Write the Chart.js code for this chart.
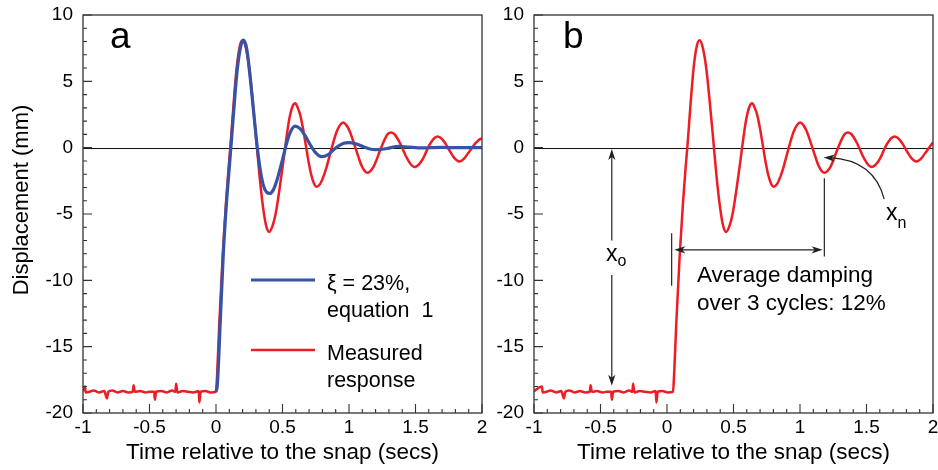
<!DOCTYPE html>
<html lang="en">
<head>
<meta charset="UTF-8">
<title>Snap response: measured vs equation 1</title>
<script src="https://cdn.jsdelivr.net/npm/chart.js"></script>
<style>
  html, body { margin: 0; padding: 0; background: #fff; }
  #wrap { position: relative; width: 938px; height: 470px; }
  canvas { position: absolute; top: 0; }
  #chartA { left: 0; }
  #chartB { left: 490px; }
</style>
</head>
<body>
<div id="wrap">
  <canvas id="chartA" width="490" height="470"></canvas>
  <canvas id="chartB" width="448" height="470"></canvas>
</div>
<script>
  const FONT = "'Liberation Sans', Arial, Helvetica, sans-serif";
  const RED = '#ee1c24';
  const BLUE = '#3853a4';

  // axes
  const xTitle = 'Time relative to the snap (secs)';
  const yTitle = 'Displacement (mm)';

  // measured response, time base of panel a
  const measTimeA = [-1.00,-0.985,-0.98,-0.95,-0.92,-0.88,-0.84,-0.82,-0.81,-0.78,
    -0.74,-0.70,-0.66,-0.625,-0.62,-0.61,-0.57,-0.53,-0.50,-0.465,
    -0.46,-0.45,-0.41,-0.37,-0.33,-0.305,-0.30,-0.29,-0.25,-0.21,
    -0.17,-0.13,-0.125,-0.115,-0.08,-0.04,0.00,
    0.005,0.015,0.025,0.05,0.075,0.095,0.11,0.13,0.155,0.18,0.20,
    0.225,0.25,0.275,0.30,0.325,0.35,0.375,0.40,0.425,0.45,
    0.475,0.50,0.525,0.55,0.575,0.595,0.615,0.635,0.655,0.675,
    0.695,0.715,0.737,0.757,0.782,0.807,0.832,0.857,0.882,0.907,
    0.932,0.957,0.98,1.003,1.025,1.048,1.071,1.094,1.117,1.14,
    1.162,1.184,1.206,1.228,1.25,1.272,1.294,1.316,1.338,1.361,
    1.383,1.406,1.428,1.451,1.473,1.496,1.517,1.539,1.56,1.581,
    1.602,1.624,1.645,1.667,1.688,1.708,1.729,1.749,1.77,1.79,
    1.81,1.83,1.851,1.872,1.893,1.915,1.936,1.957,1.978,2.0];

  // same record as drawn in panel b (its trace sits a little later)
  const measTimeB = [-1.0,-0.94,-0.935,-0.905,-0.875,-0.835,-0.795,-0.775,-0.765,-0.735,
    -0.695,-0.655,-0.615,-0.58,-0.575,-0.565,-0.525,-0.485,-0.455,-0.42,
    -0.415,-0.405,-0.365,-0.325,-0.285,-0.26,-0.255,-0.245,-0.205,-0.165,
    -0.125,-0.085,-0.08,-0.07,-0.035,0.005,0.045,
    0.05,0.06,0.07,0.095,0.12,0.14,0.155,0.175,0.2,0.225,0.245,
    0.27,0.295,0.32,0.345,0.37,0.395,0.42,0.445,0.47,0.495,
    0.52,0.545,0.57,0.595,0.62,0.64,0.66,0.68,0.70,0.72,
    0.74,0.76,0.782,0.802,0.827,0.852,0.877,0.902,0.927,0.952,
    0.977,1.002,1.025,1.048,1.07,1.093,1.116,1.139,1.162,1.185,
    1.207,1.229,1.251,1.273,1.295,1.317,1.339,1.361,1.383,1.406,
    1.428,1.451,1.473,1.496,1.518,1.541,1.562,1.584,1.605,1.626,
    1.647,1.669,1.69,1.712,1.733,1.753,1.774,1.794,1.815,1.835,
    1.855,1.875,1.896,1.917,1.938,1.96,1.981,2.002,2.023,2.045];

  const measDisp = [-18.35,-18.0,-18.45,-18.4,-18.3,-18.45,-18.35,-18.9,-18.4,-18.3,
    -18.45,-18.35,-18.45,-18.4,-17.9,-18.4,-18.35,-18.45,-18.4,-18.4,
    -19.0,-18.4,-18.35,-18.45,-18.3,-18.4,-17.8,-18.45,-18.35,-18.4,
    -18.45,-18.35,-19.2,-18.4,-18.35,-18.45,-18.4,
    -17.8,-15.6,-13.2,-8.2,-4.2,-1.5,0.3,3.0,6.0,7.7,8.1,
    7.5,6.0,3.6,0.9,-1.9,-4.2,-5.8,-6.35,-5.9,-4.9,
    -3.3,-1.5,0.4,2.1,3.1,3.35,3.0,2.4,1.4,0.2,
    -1.0,-2.0,-2.7,-2.95,-2.75,-2.2,-1.45,-0.5,0.4,1.2,
    1.7,1.9,1.7,1.3,0.7,0.0,-0.7,-1.35,-1.75,-1.9,
    -1.75,-1.45,-0.95,-0.35,0.2,0.7,1.05,1.15,1.05,0.75,
    0.35,-0.15,-0.65,-1.05,-1.35,-1.45,-1.35,-1.1,-0.75,-0.3,
    0.15,0.5,0.75,0.85,0.75,0.55,0.25,-0.1,-0.45,-0.75,
    -0.95,-1.05,-0.95,-0.75,-0.45,-0.15,0.15,0.4,0.6,0.7];

  // equation 1, xi = 23%
  const modelTime = [0,0.01,0.02,0.03,0.055,0.08,0.1,0.115,0.135,0.16,
    0.185,0.205,0.23,0.255,0.28,0.305,0.33,0.355,0.38,0.406,
    0.43,0.46,0.5,0.53,0.56,0.594,0.63,0.67,0.71,0.75,
    0.795,0.84,0.88,0.92,0.96,1.0,1.05,1.1,1.15,1.2,
    1.25,1.3,1.37,1.45,1.55,1.7,1.85,2.0];
  const modelDisp = [-18.4,-17.9,-16.0,-13.6,-8.0,-4.0,-1.5,0.4,3.0,5.9,
    7.6,8.1,7.5,5.5,3.0,0.5,-1.5,-2.8,-3.35,-3.45,
    -3.2,-2.4,-0.9,0.3,1.2,1.63,1.45,0.9,0.2,-0.4,
    -0.68,-0.55,-0.2,0.12,0.33,0.38,0.3,0.1,-0.08,-0.15,
    -0.12,-0.03,0.1,0.04,-0.02,0.02,0.0,0.0];

  const legendRows = [
    { color: BLUE, width: 3.2, lines: ['\u03BE = 23%,', 'equation  1'] },
    { color: RED, width: 2.5, lines: ['Measured', 'response'] }
  ];

  function toPoints(ts, ys) {
    return ts.map((t, i) => ({ x: t, y: ys[i] }));
  }

  function arrowHead(ctx, x, y, ang) {
    ctx.save();
    ctx.translate(x, y);
    ctx.rotate(ang);
    ctx.beginPath();
    ctx.moveTo(0, 0);
    ctx.lineTo(-11, -3.6);
    ctx.lineTo(-8, 0);
    ctx.lineTo(-11, 3.6);
    ctx.closePath();
    ctx.fill();
    ctx.restore();
  }

  function seg(ctx, x1, y1, x2, y2) {
    ctx.beginPath();
    ctx.moveTo(x1, y1);
    ctx.lineTo(x2, y2);
    ctx.stroke();
  }

  // box, inward ticks and the zero line
  const axisFrame = {
    id: 'axisFrame',
    beforeDatasetsDraw(chart) {
      const { ctx, chartArea: a, scales: { y } } = chart;
      const y0 = Math.round(y.getPixelForValue(0)) + 0.5;
      ctx.save();
      ctx.strokeStyle = '#111';
      ctx.lineWidth = 1;
      seg(ctx, a.left, y0, a.right, y0);
      ctx.restore();
    },
    afterDraw(chart) {
      const { ctx, chartArea: a, scales: { x, y } } = chart;
      ctx.save();
      ctx.strokeStyle = '#333';
      ctx.lineWidth = 1.3;
      ctx.strokeRect(a.left, a.top, a.right - a.left, a.bottom - a.top);
      ctx.lineWidth = 1.1;
      ctx.beginPath();
      for (let i = -10; i <= 20; i++) {
        const px = x.getPixelForValue(i / 10);
        const len = i % 5 === 0 ? 9 : 4;
        ctx.moveTo(px, a.bottom);
        ctx.lineTo(px, a.bottom - len);
      }
      for (let j = -20; j <= 10; j++) {
        const py = y.getPixelForValue(j);
        const len = j % 5 === 0 ? 9 : 4;
        ctx.moveTo(a.left, py);
        ctx.lineTo(a.left + len, py);
      }
      ctx.stroke();
      ctx.restore();
    }
  };

  const legendA = {
    id: 'legendA',
    afterDraw(chart) {
      const { ctx, chartArea: a } = chart;
      ctx.save();
      ctx.fillStyle = '#000';
      // y axis title, sits a little above the middle of the frame
      ctx.save();
      ctx.translate(22, a.top + 185);
      ctx.rotate(-Math.PI / 2);
      ctx.textAlign = 'center';
      ctx.textBaseline = 'middle';
      ctx.font = `22px ${FONT}`;
      ctx.fillText(yTitle, 0, 0);
      ctx.restore();

      ctx.font = `37px ${FONT}`;
      ctx.fillText('a', a.left + 27, a.top + 33);
      ctx.font = `21.5px ${FONT}`;
      legendRows.forEach((row, k) => {
        const ly = a.top + 265 + k * 70;
        ctx.strokeStyle = row.color;
        ctx.lineWidth = row.width;
        seg(ctx, a.left + 168, ly, a.left + 232, ly);
        ctx.fillText(row.lines[0], a.left + 244, ly + 10);
        ctx.fillText(row.lines[1], a.left + 244, ly + 37);
      });
      ctx.restore();
    }
  };

  const notesB = {
    id: 'notesB',
    afterDraw(chart) {
      const { ctx, chartArea: a, scales: { x, y } } = chart;
      const X = v => x.getPixelForValue(v);
      const Y = v => y.getPixelForValue(v);
      ctx.save();
      ctx.fillStyle = '#000';
      ctx.font = `37px ${FONT}`;
      ctx.fillText('b', a.left + 29, a.top + 33);

      ctx.strokeStyle = '#222';
      ctx.fillStyle = '#222';
      ctx.lineWidth = 1.2;

      // x_o : initial displacement
      const xo = X(-0.415);
      seg(ctx, xo, Y(-0.1) + 6, xo, Y(-7.0));
      arrowHead(ctx, xo, Y(-0.1), -Math.PI / 2);
      seg(ctx, xo, Y(-9.6), xo, Y(-17.95) - 6);
      arrowHead(ctx, xo, Y(-17.95), Math.PI / 2);

      // three-cycle span
      seg(ctx, X(0.035), Y(-6.45), X(0.035), Y(-10.4));
      seg(ctx, X(1.183), Y(-2.3), X(1.183), Y(-8.2));
      const yh = Y(-7.7);
      seg(ctx, X(0.055) + 6, yh, X(1.17) - 6, yh);
      arrowHead(ctx, X(0.055), yh, Math.PI);
      arrowHead(ctx, X(1.17), yh, 0);

      // x_n pointer
      const sx = X(1.633), sy = Y(-3.88);
      const cx = X(1.558), cy = Y(-0.93);
      const tx = X(1.178), ty = Y(-0.75);
      ctx.beginPath();
      ctx.moveTo(sx, sy);
      ctx.quadraticCurveTo(cx, cy, tx + 6, ty);
      ctx.stroke();
      arrowHead(ctx, tx, ty, Math.atan2(ty - cy, tx - cx));

      ctx.fillStyle = '#000';
      ctx.font = `23px ${FONT}`;
      const w = ctx.measureText('x').width;
      ctx.fillText('x', xo - w / 2, Y(-8.55));
      ctx.fillText('x', a.left + 352, a.top + 205);
      ctx.font = `16px ${FONT}`;
      ctx.fillText('o', xo + w / 2, Y(-8.55) + 5);
      ctx.fillText('n', a.left + 352 + w, a.top + 213);

      ctx.font = `22.5px ${FONT}`;
      ctx.fillText('Average damping', a.left + 163, a.top + 267);
      ctx.fillText('over 3 cycles: 12%', a.left + 163, a.top + 295);
      ctx.restore();
    }
  };

  function scalesFor(yWidth) {
    return {
      x: {
        type: 'linear', min: -1, max: 2,
        afterFit(s) { s.height = 57; s.paddingLeft = 0; s.paddingRight = 0; },
        grid: { display: false, drawTicks: false },
        border: { display: false },
        ticks: {
          stepSize: 0.1, autoSkip: false, maxRotation: 0, padding: 3, color: '#000',
          font: { family: FONT, size: 19 },
          callback(v) {
            const r = Math.round(v * 10);
            return r % 5 === 0 ? String(r / 10) : '';
          }
        },
        title: {
          display: true, text: xTitle, color: '#000',
          font: { family: FONT, size: 22.5 }, padding: { top: 0, bottom: 4 }
        }
      },
      y: {
        type: 'linear', min: -20, max: 10,
        afterFit(s) { s.width = yWidth; s.paddingTop = 0; s.paddingBottom = 0; },
        grid: { display: false, drawTicks: false },
        border: { display: false },
        ticks: {
          stepSize: 1, autoSkip: false, padding: 10, color: '#000',
          font: { family: FONT, size: 19 },
          callback(v) { return v % 5 === 0 ? String(v) : ''; }
        }
      }
    };
  }

  const baseOptions = (pad, yWidth) => ({
    responsive: false,
    animation: false,
    devicePixelRatio: 1,
    layout: { padding: pad },
    plugins: { legend: { display: false }, tooltip: { enabled: false } },
    scales: scalesFor(yWidth)
  });

  new Chart(document.getElementById('chartA'), {
    type: 'line',
    data: {
      datasets: [
        {
          label: '\u03BE = 23%, equation 1',
          data: toPoints(modelTime, modelDisp),
          borderColor: BLUE, borderWidth: 3.2, pointRadius: 0,
          cubicInterpolationMode: 'monotone', fill: false
        },
        {
          label: 'Measured response',
          data: toPoints(measTimeA, measDisp),
          borderColor: RED, borderWidth: 2.5, pointRadius: 0,
          cubicInterpolationMode: 'monotone', fill: false
        }
      ]
    },
    options: baseOptions({ top: 15, right: 8, left: 0, bottom: 0 }, 83),
    plugins: [axisFrame, legendA]
  });

  new Chart(document.getElementById('chartB'), {
    type: 'line',
    data: {
      datasets: [
        {
          label: 'Measured response',
          data: toPoints(measTimeB, measDisp),
          borderColor: RED, borderWidth: 2.5, pointRadius: 0,
          cubicInterpolationMode: 'monotone', fill: false
        }
      ]
    },
    options: baseOptions({ top: 15, right: 5, left: 0, bottom: 0 }, 44),
    plugins: [axisFrame, notesB]
  });
</script>
</body>
</html>
